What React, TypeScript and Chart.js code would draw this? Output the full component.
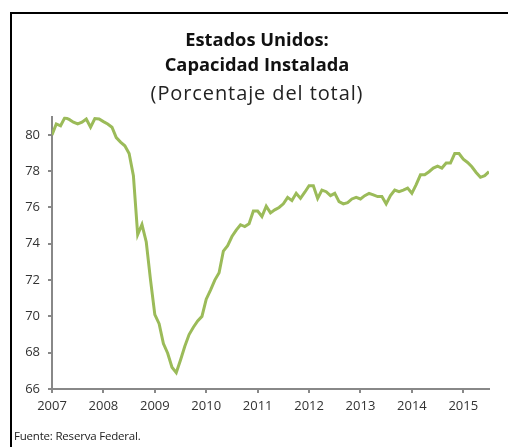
import React, { useEffect, useRef } from "react";
import { Chart, registerables } from "chart.js";

Chart.register(...registerables);

// Monthly data, Jan 2007 .. Jul 2015 (index 0 = Jan 2007)
const startYear = 2007;
const capacity2007 = [80.0, 80.6, 80.5, 80.95, 80.85, 80.7, 80.6, 80.7, 80.87, 80.42, 80.9, 80.87];
const capacity2008 = [80.73, 80.6, 80.42, 79.85, 79.6, 79.4, 78.97, 77.75, 74.5, 75.06, 74.1, 72.0];
const capacity2009 = [70.1, 69.6, 68.5, 67.97, 67.2, 66.9, 67.6, 68.35, 69.0, 69.4, 69.75, 70.0];
const capacity2010 = [70.95, 71.45, 72.0, 72.4, 73.6, 73.9, 74.4, 74.75, 75.05, 74.95, 75.1, 75.8];
const capacity2011 = [75.8, 75.5, 76.07, 75.7, 75.87, 76.0, 76.2, 76.56, 76.38, 76.78, 76.5, 76.84];
const capacity2012 = [77.2, 77.2, 76.5, 76.96, 76.87, 76.65, 76.78, 76.32, 76.2, 76.27, 76.47, 76.56];
const capacity2013 = [76.47, 76.65, 76.78, 76.69, 76.6, 76.6, 76.2, 76.65, 76.96, 76.87, 76.96, 77.07];
const capacity2014 = [76.78, 77.26, 77.8, 77.8, 77.97, 78.17, 78.28, 78.17, 78.45, 78.45, 78.97, 78.97];
const capacity2015 = [78.66, 78.48, 78.24, 77.93, 77.66, 77.75, 77.97];

const titleLines = ["Estados Unidos:", "Capacidad Instalada"];
const subtitleText = "(Porcentaje del total)";
const sourceText = "Fuente: Reserva Federal.";

const FONT = "'Open Sans', 'Noto Sans', sans-serif";

// widen the subtitle's letter spacing to match the reference typeface
const subtitleSpacing = {
  id: "subtitleSpacing",
  beforeDraw(chart: any) {
    for (const box of chart.boxes) {
      if (box && box.options && box.options.text === subtitleText && !box.__spaced) {
        const orig = box.draw.bind(box);
        box.draw = (...args: any[]) => {
          const c = chart.ctx;
          c.save();
          (c as any).letterSpacing = "0.9px";
          orig(...args);
          c.restore();
        };
        box.__spaced = true;
      }
    }
  },
};

export default function App() {
  const canvasRef = useRef<HTMLCanvasElement | null>(null);

  useEffect(() => {
    const values = [
      ...capacity2007, ...capacity2008, ...capacity2009, ...capacity2010,
      ...capacity2011, ...capacity2012, ...capacity2013, ...capacity2014, ...capacity2015,
    ];
    const points = values.map((v, i) => ({ x: i, y: v }));
    const ctx = canvasRef.current!;
    const chart = new Chart(ctx, {
      type: "line",
      data: {
        datasets: [
          {
            data: points,
            borderColor: "#9BBB59",
            borderWidth: 3,
            pointRadius: 0,
            tension: 0,
            fill: false,
          },
        ],
      },
      plugins: [subtitleSpacing],
      options: {
        animation: false,
        responsive: false,
        devicePixelRatio: 1,
        layout: { padding: { left: 13, right: 21, top: 0, bottom: 28 } },
        plugins: {
          legend: { display: false },
          tooltip: { enabled: false },
          title: {
            display: true,
            text: titleLines,
            color: "#111",
            font: { family: FONT, size: 18.3, weight: "bold", lineHeight: 1.35 },
            padding: { top: 14.5, bottom: 0 },
          },
          subtitle: {
            display: true,
            text: subtitleText,
            color: "#222",
            font: { family: FONT, size: 20, weight: "normal", lineHeight: 1.25 },
            padding: { top: 3.5, bottom: 10.3 },
          },
        },
        scales: {
          x: {
            type: "linear",
            min: 0,
            max: values.length - 1,
            afterFit: (s: any) => { s.height = 30; },
            ticks: {
              stepSize: 12,
              includeBounds: false,
              autoSkip: false,
              maxRotation: 0,
              padding: 5,
              color: "#333",
              font: { family: FONT, size: 13 },
              callback: (v: any) => String(startYear + Math.round(Number(v) / 12)),
            },
            grid: { drawOnChartArea: false, drawTicks: true, tickLength: 4, color: "#888", lineWidth: 2 },
            border: { display: true, color: "#888", width: 2 },
          },
          y: {
            type: "linear",
            min: 66,
            max: 81,
            afterFit: (s: any) => { s.width = 27; },
            ticks: {
              stepSize: 2,
              includeBounds: false,
              padding: 8,
              color: "#333",
              font: { family: FONT, size: 13 },
            },
            grid: { drawOnChartArea: false, drawTicks: true, tickLength: 4, color: "#888", lineWidth: 2 },
            border: { display: true, color: "#888", width: 2 },
          },
        },
      },
    });
    return () => chart.destroy();
  }, []);

  return (
    <div style={{ position: "fixed", left: 0, top: 0, width: 508, height: 447, overflow: "hidden", background: "#fff" }}>
      <div
        style={{
          position: "absolute",
          left: 10,
          top: 12,
          width: 520,
          height: 460,
          borderLeft: "2px solid #000",
          borderTop: "2px solid #000",
        }}
      />
      <canvas
        ref={canvasRef}
        width={498}
        height={433}
        style={{ position: "absolute", left: 12, top: 14, width: 498, height: 433 }}
      />
      <div
        style={{
          position: "absolute",
          left: 14,
          top: 428,
          fontFamily: FONT,
          fontSize: 11.5,
          color: "#222",
          whiteSpace: "nowrap",
          letterSpacing: -0.2,
        }}
      >
        {sourceText}
      </div>
    </div>
  );
}
